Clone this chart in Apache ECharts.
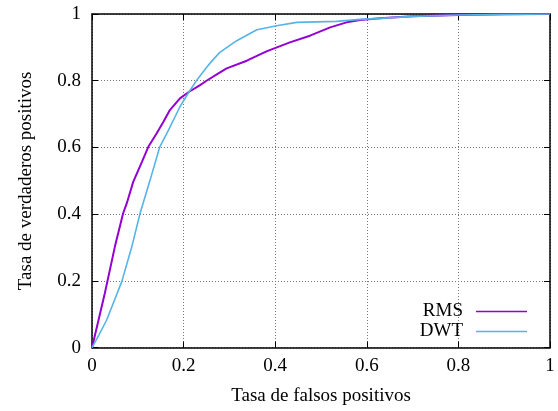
<!DOCTYPE html>
<html>
<head>
<meta charset="utf-8">
<script src="https://cdn.jsdelivr.net/npm/echarts@6/dist/echarts.min.js"></script>
<style>html,body{margin:0;padding:0;background:#fff;}#c{width:558px;height:411px;}</style>
</head>
<body>
<div id="c"></div>
<script>
const xTicks = [0, 0.2, 0.4, 0.6, 0.8, 1];
const yTicks = [0, 0.2, 0.4, 0.6, 0.8, 1];
const rmsFPR = [0, 0.028, 0.05, 0.068, 0.076, 0.09, 0.109, 0.123, 0.141, 0.156, 0.17, 0.192, 0.212, 0.236, 0.25, 0.276, 0.294, 0.338, 0.381, 0.432, 0.476, 0.52, 0.556, 0.585, 0.629, 0.7, 0.8, 0.9, 1];
const rmsTPR = [0, 0.163, 0.303, 0.403, 0.433, 0.497, 0.557, 0.602, 0.642, 0.677, 0.712, 0.747, 0.767, 0.787, 0.8, 0.822, 0.837, 0.86, 0.888, 0.915, 0.935, 0.96, 0.975, 0.982, 0.987, 0.993, 0.997, 0.999, 1];
const dwtFPR = [0, 0.015, 0.032, 0.065, 0.087, 0.105, 0.127, 0.148, 0.167, 0.192, 0.212, 0.229, 0.25, 0.261, 0.279, 0.316, 0.36, 0.403, 0.447, 0.534, 0.585, 0.629, 0.7, 0.8, 0.9, 1];
const dwtTPR = [0, 0.038, 0.083, 0.198, 0.303, 0.403, 0.503, 0.602, 0.652, 0.722, 0.767, 0.802, 0.84, 0.858, 0.885, 0.92, 0.953, 0.965, 0.975, 0.978, 0.984, 0.987, 0.993, 0.997, 0.999, 1];

const font = 'Liberation Serif';
const chart = echarts.init(document.getElementById('c'));
const zip = (a, b) => a.map((v, i) => [v, b[i]]);
const fmt = v => String(Math.round(v * 10) / 10);
const axisBase = {
  type: 'value', min: 0, max: 1, interval: 0.2,
  axisLine: { show: true, onZero: false, lineStyle: { color: '#000', width: 1.5 } },
  axisTick: { show: true, inside: true, length: 6, lineStyle: { color: '#000', width: 1 } },
};
const legendBase = {
  right: 31, bottom: 'auto', align: 'right', padding: 0, icon: 'rect', itemWidth: 51, itemHeight: 1.6,
  textStyle: { fontFamily: font, fontSize: 19, color: '#000', padding: [0, 8, 0, 0] }
};
chart.setOption({
  animation: false,
  backgroundColor: '#fff',
  grid: { left: 92, right: 8, top: 14, bottom: 63.3 },
  xAxis: [
    Object.assign({}, axisBase, {
      position: 'bottom',
      name: 'Tasa de falsos positivos', nameLocation: 'middle', nameGap: 39,
      nameTextStyle: { fontFamily: font, fontSize: 19, color: '#000' },
      axisLabel: { fontFamily: font, fontSize: 19, color: '#000', margin: 9, formatter: fmt },
      splitLine: { show: true, lineStyle: { color: '#777', type: [1, 2], width: 1 } }
    }),
    Object.assign({}, axisBase, {
      position: 'top', axisLabel: { show: false }, splitLine: { show: false }
    })
  ],
  yAxis: [
    Object.assign({}, axisBase, {
      position: 'left',
      name: 'Tasa de verdaderos positivos', nameLocation: 'middle', nameGap: 56,
      nameTextStyle: { fontFamily: font, fontSize: 19, color: '#000' },
      axisLabel: { fontFamily: font, fontSize: 19, color: '#000', margin: 11, formatter: fmt },
      splitLine: { show: true, lineStyle: { color: '#777', type: [1, 2], width: 1 } }
    }),
    Object.assign({}, axisBase, {
      position: 'right', axisLabel: { show: false }, splitLine: { show: false }
    })
  ],
  legend: [
    Object.assign({}, legendBase, { data: ['RMS'], top: 302 }),
    Object.assign({}, legendBase, { data: ['DWT'], top: 322 })
  ],
  series: [
    { name: 'RMS', type: 'line', data: zip(rmsFPR, rmsTPR), showSymbol: false, symbol: 'none',
      color: '#9400D3', lineStyle: { width: 2, color: '#9400D3' }, z: 3 },
    { name: 'DWT', type: 'line', data: zip(dwtFPR, dwtTPR), showSymbol: false, symbol: 'none',
      color: '#56B4E9', lineStyle: { width: 1.6, color: '#56B4E9' }, z: 4 }
  ]
});
</script>
</body>
</html>
